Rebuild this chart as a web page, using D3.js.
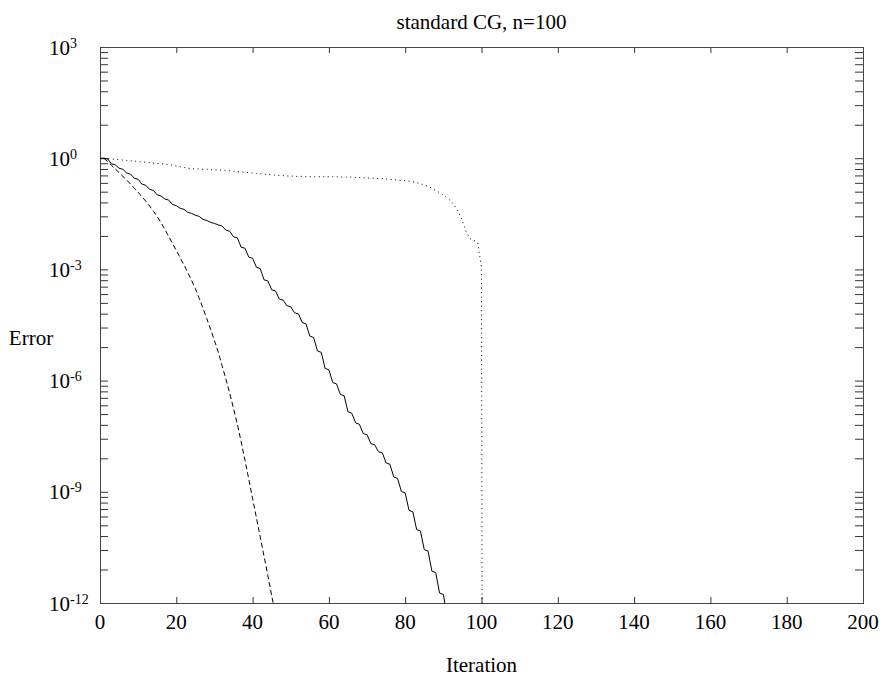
<!DOCTYPE html>
<html>
<head>
<meta charset="utf-8">
<script src="https://cdn.jsdelivr.net/npm/d3@7"></script>
<style>
  body { margin: 0; background: #fff; }
  svg { display: block; }
  text { font-family: "Liberation Serif", "Times New Roman", serif; fill: #000; }
</style>
</head>
<body>
<div id="chart"></div>
<script>
const title = "standard CG, n=100";
const xLabel = "Iteration";
const yLabel = "Error";
const iterTicks = [0, 20, 40, 60, 80, 100, 120, 140, 160, 180, 200];
const errMajorExp = [3, 0, -3, -6, -9, -12];

// log10(error) per iteration
const solidStart = 0;
const solidLog = [
  0,
  0, -0.02, -0.15, -0.18, -0.27, -0.30, -0.40, -0.43, -0.54, -0.57,
  -0.70, -0.73, -0.84, -0.87, -0.99, -1.02, -1.10, -1.13, -1.25, -1.28,
  -1.35, -1.38, -1.46, -1.49, -1.54, -1.57, -1.65, -1.68, -1.73, -1.76,
  -1.80, -1.83, -1.94, -1.97, -2.12, -2.15, -2.40, -2.43, -2.67, -2.70,
  -2.94, -2.98, -3.28, -3.31, -3.55, -3.58, -3.80, -3.83, -3.98, -4.01,
  -4.17, -4.20, -4.43, -4.47, -4.80, -4.84, -5.20, -5.24, -5.67, -5.71,
  -6.05, -6.09, -6.37, -6.41, -6.84, -6.88, -7.14, -7.18, -7.43, -7.46,
  -7.70, -7.73, -7.92, -7.95, -8.22, -8.26, -8.60, -8.64, -8.99, -9.03,
  -9.50, -9.54, -10.02, -10.06, -10.56, -10.60, -11.14, -11.18, -11.73, -11.77,
  -12.35
];

const dashedStart = 1;
const dashedLog = [
  0, -0.09, -0.19, -0.29, -0.39, -0.49, -0.59, -0.70, -0.81, -0.92,
  -1.04, -1.16, -1.29, -1.43, -1.58, -1.74, -1.92, -2.11, -2.30, -2.49,
  -2.68, -2.88, -3.08, -3.30, -3.52, -3.78, -4.05, -4.33, -4.62, -4.92,
  -5.23, -5.60, -5.96, -6.34, -6.75, -7.18, -7.65, -8.15, -8.66, -9.18,
  -9.70, -10.22, -10.74, -11.26, -11.80, -12.32
];

const dottedStart = 1;
const dottedLog = [
  0, -0.01, -0.02, -0.03, -0.04, -0.05, -0.06, -0.07, -0.08, -0.09,
  -0.10, -0.11, -0.12, -0.13, -0.14, -0.15, -0.16, -0.17, -0.19, -0.21,
  -0.23, -0.25, -0.27, -0.28, -0.29, -0.29, -0.30, -0.30, -0.31, -0.31,
  -0.32, -0.32, -0.33, -0.34, -0.35, -0.36, -0.37, -0.38, -0.39, -0.40,
  -0.41, -0.42, -0.43, -0.44, -0.45, -0.46, -0.47, -0.47, -0.48, -0.48,
  -0.49, -0.49, -0.49, -0.50, -0.50, -0.50, -0.50, -0.50, -0.50, -0.50,
  -0.50, -0.50, -0.51, -0.51, -0.51, -0.51, -0.52, -0.52, -0.53, -0.53,
  -0.54, -0.54, -0.55, -0.55, -0.56, -0.57, -0.58, -0.59, -0.60, -0.61,
  -0.62, -0.64, -0.66, -0.69, -0.72, -0.76, -0.81, -0.87, -0.93, -0.99,
  -1.07, -1.16, -1.29, -1.45, -1.70, -1.98, -2.17, -2.22, -2.27, -2.95,
  -60
];

const W = 886, H = 684;
const svg = d3.select("#chart").append("svg").attr("width", W).attr("height", H);

const x = d3.scaleLinear().domain([0, 200]).range([100, 863]);
const y = d3.scaleLog().domain([1e-12, 1e3]).range([603, 47]);
const [x0, x1] = x.range();
const [yB, yT] = y.range();

const majorVals = errMajorExp.map(e => Math.pow(10, e));
// gnuplot-style minor ticks inside each 3-decade major step
const minorVals = [];
errMajorExp.filter(e => e < 3).forEach(e => {
  for (let k = 2; k <= 9; k++) minorVals.push(Math.pow(10, e) * k * k * k);
});

// clip
svg.append("clipPath").attr("id", "plot-clip")
  .append("rect").attr("x", x0).attr("y", yT).attr("width", x1 - x0).attr("height", yB - yT);

// ticks (inward, mirrored)
const tickColor = "#333";
function styleAxis(g) {
  g.select(".domain").remove();
  g.selectAll(".tick line").attr("stroke", tickColor);
  g.selectAll(".tick text").remove();
}
svg.append("g").attr("transform", `translate(0,${yB})`)
  .call(d3.axisBottom(x).tickValues(iterTicks).tickSize(-6)).call(styleAxis);
svg.append("g").attr("transform", `translate(0,${yT})`)
  .call(d3.axisTop(x).tickValues(iterTicks).tickSize(-6)).call(styleAxis);
[majorVals, minorVals].forEach(vals => {
  svg.append("g").attr("transform", `translate(${x0},0)`)
    .call(d3.axisLeft(y).tickValues(vals).tickSize(-8)).call(styleAxis);
  svg.append("g").attr("transform", `translate(${x1},0)`)
    .call(d3.axisRight(y).tickValues(vals).tickSize(-8)).call(styleAxis);
});

// border
svg.append("rect")
  .attr("x", x0 + 0.5).attr("y", yT + 0.5)
  .attr("width", x1 - x0).attr("height", yB - yT)
  .attr("fill", "none").attr("stroke", "#444").attr("stroke-width", 1);

// tick labels
svg.append("g").selectAll("text").data(iterTicks).join("text")
  .attr("x", d => x(d)).attr("y", yB + 26)
  .attr("text-anchor", "middle").style("font-size", "21px")
  .text(d => d);

const yLab = svg.append("g").selectAll("text").data(errMajorExp).join("text")
  .attr("x", 49).attr("y", d => y(Math.pow(10, d)) + 7.5)
  .style("font-size", "21px");
yLab.append("tspan").text("10");
yLab.append("tspan").attr("dy", -7).style("font-size", "14px").text(d => d);

// title and axis labels
svg.append("text").attr("x", (x0 + x1) / 2).attr("y", 29)
  .attr("text-anchor", "middle").style("font-size", "21px").text(title);
svg.append("text").attr("x", (x0 + x1) / 2).attr("y", 672)
  .attr("text-anchor", "middle").style("font-size", "21px").text(xLabel);
svg.append("text").attr("x", 31).attr("y", 345)
  .attr("text-anchor", "middle").style("font-size", "21px").text(yLabel);

// curves
const line = d3.line().x(d => x(d[0])).y(d => y(Math.pow(10, d[1])));
const series = [
  { start: solidStart, vals: solidLog, dash: null },
  { start: dashedStart, vals: dashedLog, dash: "5,3" },
  { start: dottedStart, vals: dottedLog, dash: "1,3.5" }
];
const plot = svg.append("g").attr("clip-path", "url(#plot-clip)");
series.forEach(s => {
  plot.append("path")
    .datum(s.vals.map((v, i) => [s.start + i, v]))
    .attr("d", line)
    .attr("fill", "none")
    .attr("stroke", "#000")
    .attr("stroke-width", 1)
    .attr("stroke-dasharray", s.dash);
});
</script>
</body>
</html>
